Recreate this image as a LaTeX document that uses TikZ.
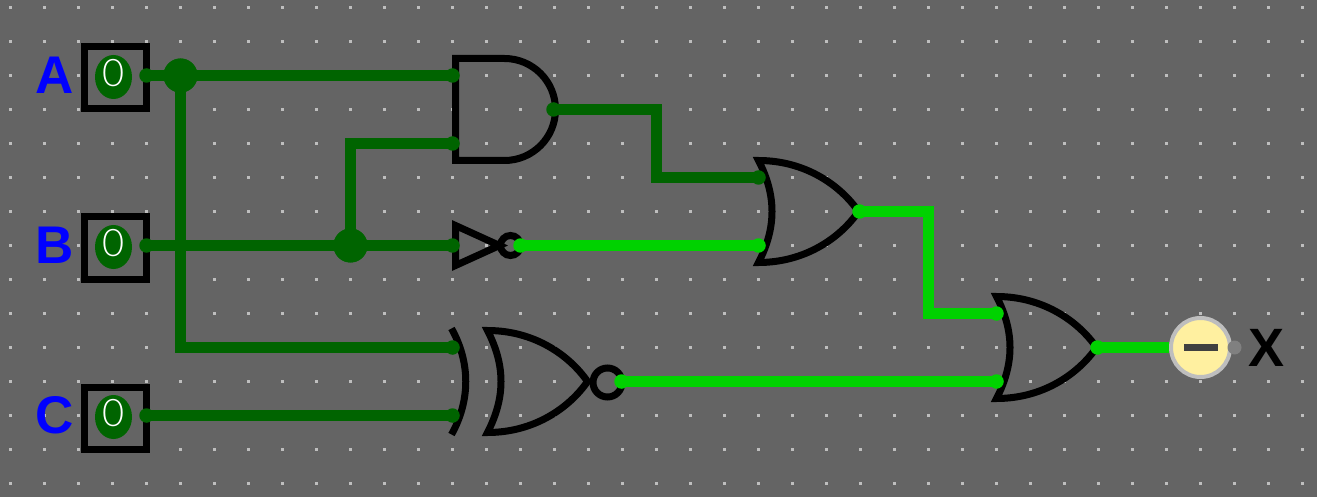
\documentclass[tikz,border=0pt]{standalone}
\usepackage{fontspec}
\setmainfont{Liberation Sans}
\newfontfamily\thinfont{Lato Light}
\definecolor{bgc}{RGB}{100,100,100}
\definecolor{dotc}{RGB}{190,190,190}
\definecolor{wdark}{RGB}{0,100,0}
\definecolor{wlight}{RGB}{0,210,0}
\definecolor{ledc}{RGB}{255,240,160}
\definecolor{ledr}{RGB}{190,190,190}
\definecolor{barc}{RGB}{64,64,64}
\definecolor{pinc}{RGB}{128,128,128}
\usetikzlibrary{shapes.geometric}
\tikzset{
  gate/.style={draw=black,line width=7pt,miter limit=20},
  wiredark/.style={draw=wdark,line width=10.5pt},
  wirelight/.style={draw=wlight,line width=10.5pt},
  pindark/.style={circle,fill=wdark,inner sep=0pt,minimum size=14.5pt},
  pinlight/.style={circle,fill=wlight,inner sep=0pt,minimum size=14.5pt},
  junction/.style={circle,fill=wdark,inner sep=0pt,minimum size=34pt},
  inbox/.style={draw=black,line width=7pt,fill=none,inner sep=0pt,minimum width=62pt,minimum height=62pt},
  inoval/.style={ellipse,fill=wdark,inner sep=0pt,minimum width=37pt,minimum height=44pt},
  zerotext/.style={text=white,inner sep=0pt,font=\thinfont\fontsize{38}{38}\selectfont},
  inlabel/.style={text=blue,inner sep=0pt,font=\bfseries\fontsize{53}{53}\selectfont},
  outlabel/.style={text=black,inner sep=0pt,font=\bfseries\fontsize{54}{54}\selectfont},
  orgate/.pic={
    \draw[gate] (0,0) .. controls (47,0) and (82,25) .. (100,51)
      .. controls (82,77) and (47,102) .. (0,102)
      .. controls (18,67) and (18,35) .. cycle;
  }
}
\begin{document}
\begin{tikzpicture}[x=1pt,y=-1pt]
\useasboundingbox (0,0) rectangle (1317,497);
\fill[bgc] (0,0) rectangle (1317,497);
\begin{scope}[shift={(0.5,0.5)}]
\foreach \gx in {0,...,38}{\foreach \gy in {0,...,14}{
  \fill[dotc] ({10+34*\gx-1.5},{7+34*\gy-1.5}) rectangle ++(3,3);
}}

% inputs
\foreach \nm/\yy/\tx in {a/77/A,b/247/B,c/417/C}{
  \node[inbox] (box\nm) at (115,\yy+0.5) {};
  \node[inoval] (oval\nm) at (113,\yy-0.5) {};
  \node[zerotext] (zero\nm) at (113.5,\yy-4) {0};
  \node[inlabel] (lab\nm) at (54,\yy-2) {\tx};
}

% gate pins and junctions
\node[pindark] (pa) at (146,75) {};
\node[pindark] (pb) at (146,245) {};
\node[pindark] (pc) at (146,415) {};
\node[junction] (ja) at (180,75) {};
\node[junction] (jb) at (350,245) {};
\coordinate (ca) at (180,347);
\coordinate (cb) at (350,143);
\coordinate (c1a) at (656,109);
\coordinate (c1b) at (656,177);
\coordinate (c2a) at (928,211);
\coordinate (c2b) at (928,313);

% gates
\draw[gate] (455,58) -- (504,58) arc[start angle=-90,end angle=90,radius=51,y=-1pt] -- (455,160) -- cycle;
\draw[gate] (455,225) -- (499,245) -- (455,265) -- cycle;
\node[circle,draw=black,line width=7pt,inner sep=0pt,minimum size=20pt] (nb) at (510,245) {};
\pic at (758,160) {orgate};
\pic at (487,330) {orgate};
\pic at (996,296) {orgate};
\draw[draw=black,line width=7pt] (451,328) .. controls (470,362) and (470,400) .. (451,434);
\node[circle,draw=black,line width=7pt,inner sep=0pt,minimum size=29pt] (nc) at (607,382) {};

% LED
\node[circle,draw=ledr,fill=ledc,line width=4pt,inner sep=0pt,minimum size=59pt] (led) at (1200,347) {};
\fill[barc] (1183,343.5) rectangle (1217,350.5);
\node[circle,fill=pinc,inner sep=0pt,minimum size=14pt] (ledpin) at (1234,347) {};
\node[outlabel] (labx) at (1266,347) {X};

% pins
\node[pindark] (and1) at (452,75) {};
\node[pindark] (and2) at (452,143) {};
\node[pindark] (ando) at (553,109) {};
\node[pindark] (not1) at (452,245) {};
\node[pinlight] (noto) at (520,245) {};
\node[pindark] (or1) at (758,177) {};
\node[pinlight] (or2) at (758,245) {};
\node[pinlight] (oro) at (859,211) {};
\node[pindark] (nor1) at (452,347) {};
\node[pindark] (nor2) at (452,415) {};
\node[pinlight] (noro) at (621,381) {};
\node[pinlight] (fin1) at (996,313) {};
\node[pinlight] (fin2) at (996,381) {};
\node[pinlight] (fino) at (1097,347) {};

% wires
\draw[wiredark] (pa.center) -- (and1.center);
\draw[wiredark] (ja.center) -- (ca) -- (nor1.center);
\draw[wiredark] (pb.center) -- (not1.center);
\draw[wiredark] (jb.center) -- (cb) -- (and2.center);
\draw[wiredark] (pc.center) -- (nor2.center);
\draw[wiredark] (ando.center) -- (c1a) -- (c1b) -- (or1.center);
\draw[wirelight] (noto.center) -- (or2.center);
\draw[wirelight] (oro.center) -- (c2a) -- (c2b) -- (fin1.center);
\draw[wirelight] (noro.center) -- (fin2.center);
\draw[wirelight] (fino.center) -- (led.west);
\node[junction] (jat) at (ja) {};
\node[junction] (jbt) at (jb) {};
\end{scope}
\end{tikzpicture}
\end{document}
